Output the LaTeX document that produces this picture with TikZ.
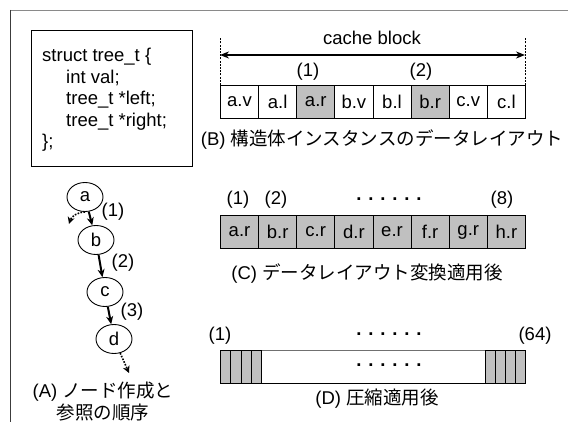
\documentclass[tikz,border=0pt]{standalone}
\usepackage{fontspec}
\setmainfont{Liberation Sans}
\newfontfamily\jp{Noto Sans CJK JP}
\usetikzlibrary{arrows.meta,shapes.geometric}

\definecolor{cellgray}{HTML}{C0C0C0}
\definecolor{framegray}{HTML}{8A8A8A}
\definecolor{framedark}{HTML}{3C3C3C}
\definecolor{baredge}{HTML}{707070}

\tikzset{
  txt/.style={inner sep=0pt, font=\fontsize{18.5}{21.5}\selectfont},
  cell/.style={draw=black, line width=0.9pt, minimum width=38.125pt, minimum height=33pt,
               inner sep=0pt, anchor=north west, font=\fontsize{18.5}{21.5}\selectfont},
  graycell/.style={cell, fill=cellgray},
  stripe/.style={draw=black, line width=0.9pt, fill=cellgray, minimum height=33pt,
                 inner sep=0pt, anchor=north west},
  tnode/.style={draw=black, line width=0.9pt, ellipse, minimum width=36pt, minimum height=29pt,
                inner sep=0pt, font=\fontsize{18.5}{21.5}\selectfont},
  tarrow/.style={line width=2pt, -{Stealth[length=8pt,width=7pt]}},
  darrow/.style={line width=1.6pt, dash pattern=on 1.6pt off 1.4pt, -{Stealth[length=7pt,width=7pt]}},
  guide/.style={line width=1pt, dash pattern=on 2pt off 1.2pt},
  span/.style={line width=2pt, {Stealth[length=9pt,width=7pt]}-{Stealth[length=9pt,width=7pt]}},
}

\begin{document}
\begin{tikzpicture}[x=1pt,y=-1pt]
\useasboundingbox (0,0) rectangle (568,422);

% outer frame (top and left edges)
\draw[framegray, line width=1.6pt] (10,10.5) -- (568,10.5);
\draw[framedark, line width=1.2pt] (10.5,10) -- (10.5,422);

% struct declaration
\node[draw=black, line width=0.9pt, anchor=north west, minimum width=161pt, minimum height=136pt,
      inner sep=0pt] (code) at (31,30) {};
\node[txt, anchor=west, align=left] (codetext) at (42,100)
  {struct tree\_t \{\\
   \hspace*{24pt}int val;\\
   \hspace*{24pt}tree\_t *left;\\
   \hspace*{24pt}tree\_t *right;\\
   \};};

% (A) node creation / reference order
\node[tnode] (a) at (85,197) {a};
\node[tnode] (b) at (96,240) {b};
\node[tnode] (c) at (105,292) {c};
\node[tnode] (d) at (114,339) {d};
\coordinate (aleft) at (69,224);
\coordinate (dnext) at (129,373);
\draw[tarrow] (a) -- (b);
\draw[tarrow] (b) -- (c);
\draw[tarrow] (c) -- (d);
\draw[darrow] (a.south) to[bend right=35] (aleft);
\draw[darrow] (d) -- (dnext);
\node[txt] (r1) at (113,212) {(1)};
\node[txt] (r2) at (123,263) {(2)};
\node[txt] (r3) at (132,312) {(3)};
\node[txt] (capA1) at (103,392) {(A) {\jp ノード作成と}};
\node[txt] (capA2) at (103,413) {{\jp 参照の順序}};

% (B) layout of the struct instances
\foreach \t [count=\i] in {a.v,a.l,a.r,b.v,b.l,b.r,c.v,c.l} {
  \ifnum\i=3 \def\cs{graycell}\else\ifnum\i=6 \def\cs{graycell}\else\def\cs{cell}\fi\fi
  \node[\cs] (b\i) at ({220+(\i-1)*38.125},85) {\t};
}
\draw[guide] (b1.north west) -- ++(0,-47) coordinate (gl);
\draw[guide] (b8.north east) -- ++(0,-47) coordinate (gr);
\coordinate (spl) at (220,55);
\coordinate (spr) at (525,55);
\draw[span] (spl) -- (spr);
\node[txt] (cb) at (372,38) {cache block};
\node[txt] (bl1) at (308,72) {(1)};
\node[txt] (bl2) at (421,72) {(2)};
\node[txt] (capB) at (382,140) {(B) {\jp 構造体インスタンスのデータレイアウト}};

% (C) after the data layout transformation
\foreach \t [count=\i] in {a.r,b.r,c.r,d.r,e.r,f.r,g.r,h.r} {
  \node[graycell] (c\i) at ({220+(\i-1)*38.125},215) {\t};
}
\node[txt] (cl1) at (238,200) {(1)};
\node[txt] (cl2) at (276,200) {(2)};
\node[txt] (cdots) at (389,199) {\textbf{. . . . . .}};
\node[txt] (cl8) at (502,200) {(8)};
\node[txt] (capC) at (367,274) {(C) {\jp データレイアウト変換適用後}};

% (D) after compression: long bar with four slots at each end
\node[anchor=north west, minimum width=305pt, minimum height=33pt, inner sep=0pt] (dbar) at (220,350) {};
\draw[baredge, line width=1pt] (dbar.north west) -- (dbar.north east);
\draw[black, line width=1pt] (dbar.south west) -- (dbar.south east);
\foreach \i in {0,...,3} {
  \node[stripe, minimum width=10.25pt] (dl\i) at ({220+\i*10.25},350) {};
  \node[stripe, minimum width=10pt] (dr\i) at ({485+\i*10},350) {};
}
\node[txt] (dinner) at (389,365) {\textbf{. . . . . .}};
\node[txt] (dl) at (220,336) {(1)};
\node[txt] (ddots) at (389,334) {\textbf{. . . . . .}};
\node[txt] (d64) at (535,336) {(64)};
\node[txt] (capD) at (377,399) {(D) {\jp 圧縮適用後}};
\end{tikzpicture}
\end{document}
